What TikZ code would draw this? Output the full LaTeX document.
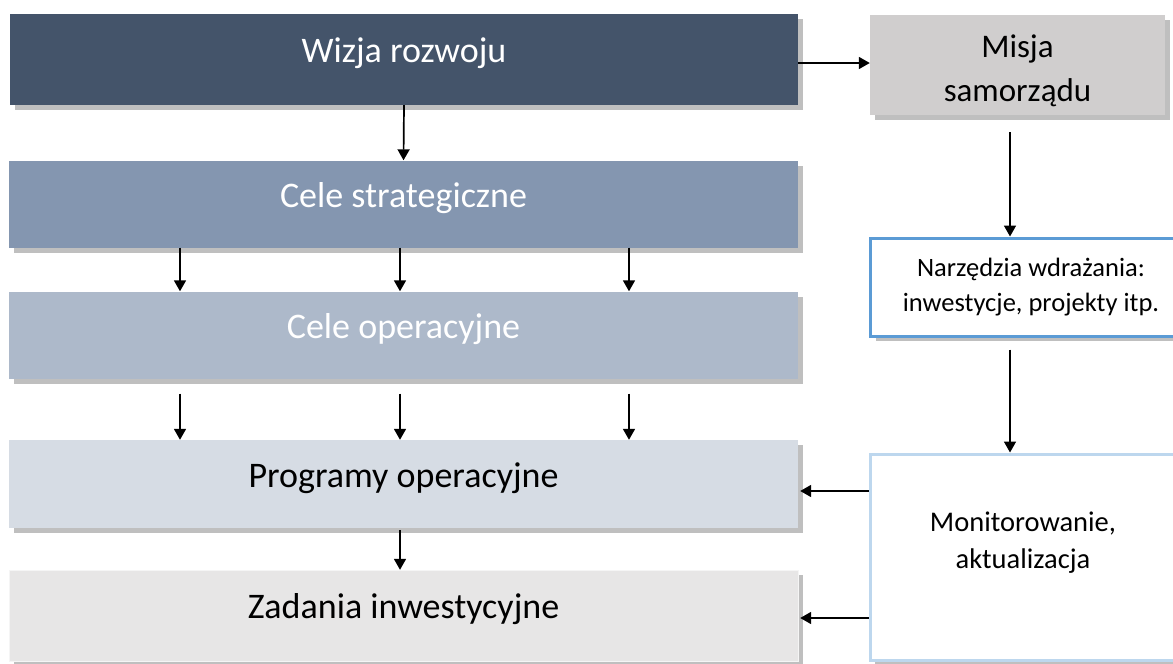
\documentclass[tikz,border=0pt]{standalone}
\usepackage{fontspec}
\setmainfont{Carlito}
\usetikzlibrary{arrows.meta,positioning,shadows}
\definecolor{wizjaC}{HTML}{44546A}
\definecolor{stratC}{HTML}{8496B0}
\definecolor{operC}{HTML}{ADB9CA}
\definecolor{progC}{HTML}{D6DCE4}
\definecolor{zadC}{HTML}{E7E6E6}
\definecolor{misjaC}{HTML}{D0CECE}
\definecolor{cienC}{HTML}{BFBFBF}
\definecolor{narzC}{HTML}{5B9BD5}
\definecolor{monitC}{HTML}{BDD7EE}

\begin{document}
\begin{tikzpicture}[x=1pt,y=-1pt,
every node/.style={align=center,inner sep=0pt,font=\fontsize{36}{44}\selectfont},
blok/.style={minimum width=789pt,minimum height=87pt,text height=26pt,text depth=20pt,drop shadow={shadow xshift=5pt,shadow yshift=-5pt,fill=cienC,opacity=1}},
boczny/.style={minimum width=300pt,drop shadow={shadow xshift=5pt,shadow yshift=-5pt,fill=cienC,opacity=1}},
arr/.style={draw,line width=1.7pt,-{Triangle[length=11pt,width=12pt]}}]
\useasboundingbox (0,0) rectangle (1173,664);
\clip (0,0) rectangle (1173,664);
% lewa kolumna
\node[blok,fill=wizjaC,text=white,minimum width=788pt,minimum height=91pt] (wizja) at (404,59.5) {Wizja rozwoju};
\node[blok,fill=stratC,text=white] (strat) at (403.5,204) {Cele strategiczne};
\node[blok,fill=operC,text=white] (oper) at (403.5,335) {Cele operacyjne};
\node[blok,fill=progC,minimum height=88pt] (prog) at (403.5,484) {Programy operacyjne};
\node[blok,fill=zadC,draw=zadC!40!white,minimum height=91pt] (zad) at (403.5,615.5) {Zadania inwestycyjne};
% prawa kolumna
\node[boczny,fill=misjaC,minimum width=295pt,minimum height=100pt,text height=78pt,font=\fontsize{33}{44}\selectfont] (misja) at (1017.5,65) {Misja\\samorządu};
\node[boczny,fill=white,draw=narzC,line width=3pt,minimum width=321pt,minimum height=98pt,font=\fontsize{26.5}{35}\selectfont] (narz) at (1031,287) {Narzędzia wdrażania:\\inwestycje, projekty itp.};
\node[boczny,fill=white,draw=monitC,line width=3pt,minimum width=306pt,minimum height=206pt,text depth=34pt,font=\fontsize{28.5}{37}\selectfont] (monit) at (1023,557) {Monitorowanie,\\aktualizacja};
% strzalki
\draw[arr] ([yshift=2pt]wizja.east |- misja.west) -- ([yshift=2pt]misja.west);
\draw[arr] (wizja.south) -- (strat.north);
\foreach \dx in {-223.5,-3.5,225.5}{
  \draw[arr] ([xshift=\dx pt]strat.south) -- ([xshift=\dx pt]oper.north);
  \draw[arr,shorten <=15pt] ([xshift=\dx pt]oper.south) -- ([xshift=\dx pt]prog.north);
}
\draw[arr,shorten <=2pt] ([xshift=-3.5pt]prog.south) -- ([xshift=-3.5pt]zad.north);
\draw[arr,shorten <=17pt] (misja.south -| 1010,0) -- (narz.north -| 1010,0);
\draw[arr,shorten <=12pt] (narz.south -| 1010,0) -- (monit.north -| 1010,0);
\draw[arr] (monit.west |- 0,491) -- ([xshift=2pt]prog.east |- 0,491);
\draw[arr] (monit.west |- 0,618) -- ([xshift=2pt]zad.east |- 0,618);
\end{tikzpicture}
\end{document}
